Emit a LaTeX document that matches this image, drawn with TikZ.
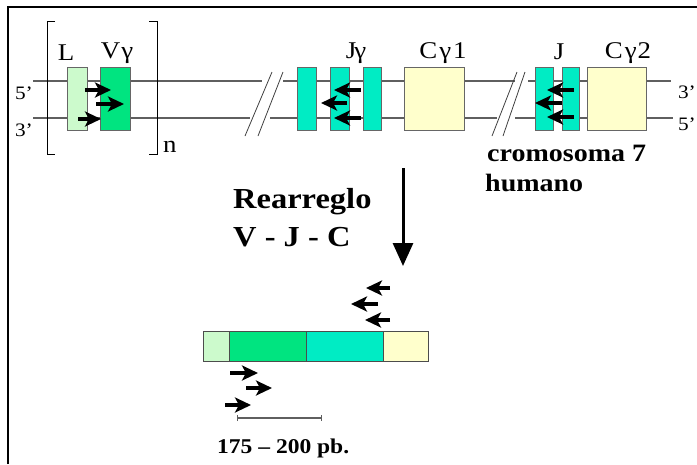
\documentclass[tikz,border=0pt]{standalone}
\usepackage{fontspec}
\setmainfont{Liberation Serif}[FakeStretch=1.12]
\usetikzlibrary{arrows.meta}
\definecolor{lgreen}{RGB}{204,250,204}
\definecolor{vgreen}{RGB}{0,228,128}
\definecolor{jcyan}{RGB}{0,236,196}
\definecolor{cyellow}{RGB}{255,255,204}
\definecolor{strand}{RGB}{95,95,95}
\begin{document}
\begin{tikzpicture}[x=1pt,y=-1pt,
    seg/.style={draw=black!60,line width=0.8pt,inner sep=0pt,minimum height=63pt},
    cseg/.style={draw=black!70,line width=0.8pt,inner sep=0pt,minimum height=30pt,anchor=north west},
    strandline/.style={strand,line width=2.4pt},
    cut/.style={black!75,line width=0.8pt},
    rs/.style={line width=4pt,-{Stealth[length=16pt,width=15pt,inset=4pt]}},
    lbl/.style={font=\fontsize{24}{24}\selectfont,inner sep=0pt},
    endlbl/.style={font=\fontsize{19}{19}\selectfont,inner sep=0pt},
    boldtxt/.style={font=\fontsize{25}{25}\selectfont\bfseries,anchor=west,inner sep=0pt}]
  \useasboundingbox (0,0) rectangle (697,464);
  \draw[line width=2.5pt] (8,464) -- (8,7) -- (697,7);
  % strands
  \draw[strandline] (33,81) -- (262,81) (283,81) -- (515,81) (528,81) -- (671,81);
  \draw[strandline] (33,118) -- (250,118) (270,118) -- (497,118) (515,118) -- (673,118);
  \draw[cut] (245,136) -- (272,72) (258,136) -- (283,72);
  \draw[cut] (492,136) -- (517,72) (503,136) -- (525,72);
  \node[endlbl,anchor=east] (p5) at (33,93) {5’};
  \node[endlbl,anchor=east] (p3) at (33,130) {3’};
  \node[endlbl,anchor=east] (q3) at (696,92) {3’};
  \node[endlbl,anchor=east] (q5) at (696,124) {5’};
  % repeated V unit
  \draw[line width=0.9pt] (55,21) -- (47,21) -- (47,154) -- (55,154);
  \draw[line width=0.9pt] (149,21) -- (157,21) -- (157,154) -- (149,154);
  \node[lbl,anchor=west] (n) at (163,147) {n};
  \node[seg,fill=lgreen,minimum width=20pt] (L) at (77,98.5) {};
  \node[seg,fill=vgreen,minimum width=30pt] (V) at (115,98.5) {};
  \node[lbl] at (66,53) {L};
  \node[lbl] at (117,53) {V\kern1pt γ};
  \draw[rs] (85,90) -- (111,90);
  \draw[rs] (96,104) -- (124,104);
  \draw[rs] (78,119) -- (101,119);
  % J gamma and C gamma 1
  \node[seg,fill=jcyan,minimum width=19pt] (J1a) at (306.5,98.5) {};
  \node[seg,fill=jcyan,minimum width=19pt] (J1b) at (339.5,98.5) {};
  \node[seg,fill=jcyan,minimum width=18pt] (J1c) at (372,98.5) {};
  \node[seg,fill=cyellow,minimum width=60pt] (C1) at (434,98.5) {};
  \node[lbl] at (356,53) {J\kern-2pt γ};
  \node[lbl] at (443,53) {C\kern2pt γ\kern2pt 1};
  \draw[rs] (361,90) -- (334,90);
  \draw[rs] (347,103) -- (321,103);
  \draw[rs] (361,118) -- (334,118);
  % J and C gamma 2
  \node[seg,fill=jcyan,minimum width=18pt] (J2a) at (544,98.5) {};
  \node[seg,fill=jcyan,minimum width=17pt] (J2b) at (570.5,98.5) {};
  \node[seg,fill=cyellow,minimum width=59pt] (C2) at (616.5,98.5) {};
  \node[lbl] at (559,52) {J};
  \node[lbl] at (628,53) {C\kern2pt γ\kern1pt 2};
  \draw[rs] (574,90) -- (547,90);
  \draw[rs] (562,103) -- (535,103);
  \draw[rs] (574,117) -- (547,117);
  \node[boldtxt] (crom) at (487,153) {cromosoma 7};
  \node[boldtxt] (hum) at (485,183) {humano};
  % rearrangement
  \coordinate (rtop) at (403,168);
  \coordinate (rbot) at (403,266);
  \draw[line width=3pt,-{Triangle[length=23pt,width=20pt]}] (rtop) -- (rbot);
  \node[boldtxt,font=\fontsize{29}{29}\selectfont\bfseries] (rea) at (233,202) {Rearreglo};
  \node[boldtxt,font=\fontsize{29}{29}\selectfont\bfseries] (vjc) at (233,237) {V - J - C};
  \node[cseg,fill=lgreen,minimum width=26pt] (rl) at (203,331) {};
  \node[cseg,fill=vgreen,minimum width=77pt] (rv) at (229,331) {};
  \node[cseg,fill=jcyan,minimum width=77pt] (rj) at (306,331) {};
  \node[cseg,fill=cyellow,minimum width=45pt] (rc) at (383,331) {};
  \draw[rs] (390,288) -- (366,288);
  \draw[rs] (378,304) -- (351,304);
  \draw[rs] (390,320) -- (365,320);
  \draw[rs] (230,373) -- (258,373);
  \draw[rs] (246,388) -- (272,388);
  \draw[rs] (225,405) -- (251,405);
  \draw[strand,line width=1.2pt,{Bar[width=6pt]}-{Bar[width=6pt]}] (237,418) -- (322,418);
  \node[boldtxt,font=\fontsize{21}{21}\selectfont\bfseries] (bp) at (217,448) {175 – 200 pb.};
\end{tikzpicture}
\end{document}
